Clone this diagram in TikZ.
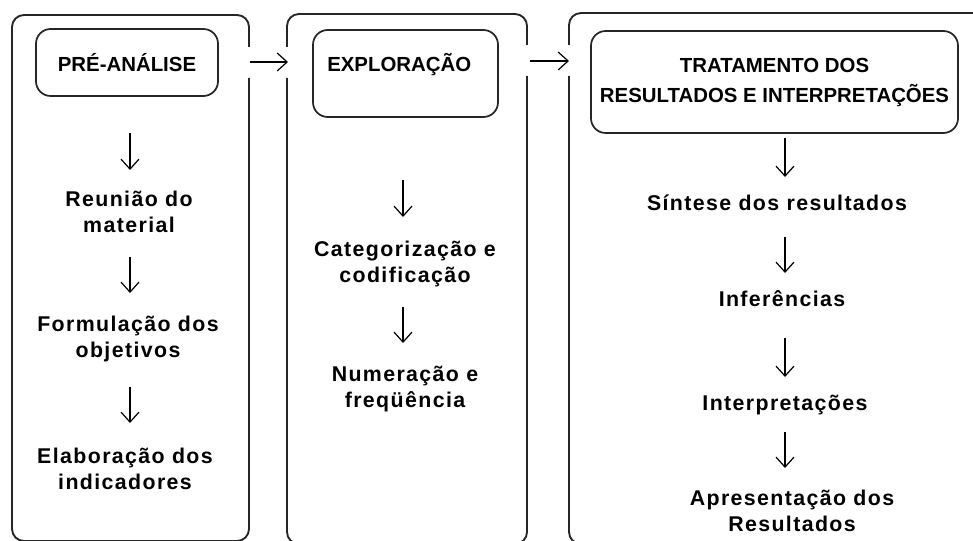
\documentclass[tikz,border=0pt]{standalone}
\usepackage{fontspec}
\setmainfont{Liberation Sans}
\newfontfamily\bodyfont[LetterSpace=6.5]{Liberation Sans}
\usetikzlibrary{arrows.meta,fit}
\begin{document}
\begin{tikzpicture}[x=0.75pt,y=-0.75pt,
  frame/.style={line width=1.4pt, draw=black!85, rounded corners=9pt},
  headbox/.style={draw=black!85, line width=1.3pt, rounded corners=11pt, inner sep=0pt},
  headtext/.style={font=\fontsize{15.3}{22.5}\selectfont\bfseries, align=center, inner sep=0pt},
  bodytext/.style={font=\bodyfont\fontsize{16}{19.5}\selectfont\bfseries, align=center, inner sep=0pt},
  flow/.style={line width=0.9pt, -{Straight Barb[length=7.5pt,width=13.5pt]}}
]
\useasboundingbox (0,0) rectangle (973,541);
\clip (0,0) rectangle (973,541);

% outer frames with gaps for the horizontal arrows
\draw[frame] (249,78) -- (249,541) -- (12,541) -- (12,15) -- (249,15) -- (249,47);
\draw[frame] (287,78) -- (287,544) -- (527,544) -- (527,76);
\draw[frame] (527,45) -- (527,14) -- (287,14) -- (287,47);
\draw[frame] (569,76) -- (569,544) -- (1000,544);
\draw[frame] (569,45) -- (569,13) -- (1000,13);

% heading boxes
\node[headbox, fit={(36,29) (218,96)}] (h1) {};
\node[headtext] (t1) at (h1.center) {PRÉ-ANÁLISE};
\node[headbox, fit={(313,30) (498,117)}] (h2) {};
\node[headtext, anchor=west] (t2) at (327,65) {EXPLORAÇÃO};
\node[headbox, fit={(591,31) (958,133)}] (h3) {};
\node[headtext] (t3) at (h3.center) {TRATAMENTO DOS\\RESULTADOS E INTERPRETAÇÕES};

% body texts
\node[bodytext] (n1) at (129,212) {Reunião do\\material};
\node[bodytext] (n2) at (128,339) {Formulação dos\\objetivos};
\node[bodytext] (n3) at (125,469) {Elaboração dos\\indicadores};
\node[bodytext] (n4) at (405,264) {Categorização e\\codificação};
\node[bodytext] (n5) at (405,389) {Numeração e\\freqüência};
\node[bodytext] (n6) at (777,203) {Síntese dos resultados};
\node[bodytext] (n7) at (782,299) {Inferências};
\node[bodytext] (n8) at (785,405) {Interpretações};
\node[bodytext] (n9) at (792,511) {Apresentação dos\\Resultados};

% arrow end points
\coordinate (a1s) at (130,133); \coordinate (a1e) at (130,170);
\coordinate (a2s) at (130,257); \coordinate (a2e) at (130,293);
\coordinate (a3s) at (130,387); \coordinate (a3e) at (130,423);
\coordinate (b1s) at (403,180); \coordinate (b1e) at (403,217);
\coordinate (b2s) at (403,307); \coordinate (b2e) at (403,343);
\coordinate (c1s) at (785,138); \coordinate (c1e) at (785,177);
\coordinate (c2s) at (785,237); \coordinate (c2e) at (785,273);
\coordinate (c3s) at (785,338); \coordinate (c3e) at (785,377);
\coordinate (c4s) at (785,432); \coordinate (c4e) at (785,468);
\coordinate (h12s) at (250,62); \coordinate (h12e) at (288,62);
\coordinate (h23s) at (530,61); \coordinate (h23e) at (569,61);

\foreach \s/\e in {a1s/a1e,a2s/a2e,a3s/a3e,b1s/b1e,b2s/b2e,c1s/c1e,c2s/c2e,c3s/c3e,c4s/c4e,h12s/h12e,h23s/h23e}
  \draw[flow] (\s) -- (\e);
\end{tikzpicture}
\end{document}
